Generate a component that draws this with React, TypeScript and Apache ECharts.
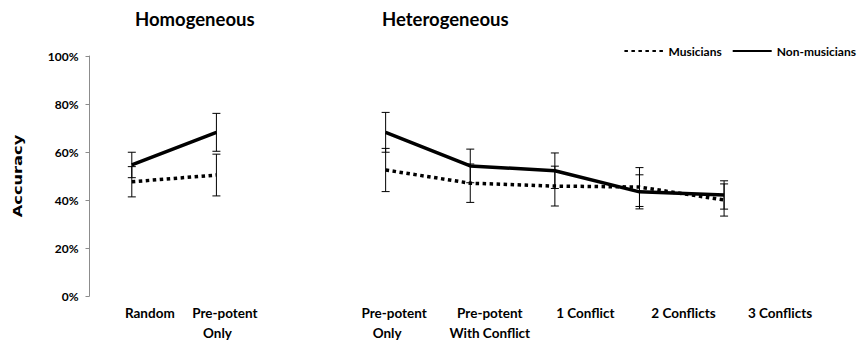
import React, { useEffect, useRef } from "react";
import * as echarts from "echarts";

// Task conditions along the x axis (one empty slot separates the two groups,
// one empty slot pads the right end).
const categories = [
  "Random",
  "Pre-potent\nOnly",
  "",
  "Pre-potent\nOnly",
  "Pre-potent\nWith Conflict",
  "1 Conflict",
  "2 Conflicts",
  "3 Conflicts",
  "",
];

// Mean accuracy (%) and error (±%) per condition.
const musicians = [47.6, 50.4, null, 52.5, 47.0, 45.8, 45.4, 40.0, null];
const musiciansErr = [6.3, 8.7, null, 9.0, 8.0, 8.3, 8.1, 6.7, null];
const nonMusicians = [54.6, 68.2, null, 68.2, 54.2, 52.2, 43.4, 42.1, null];
const nonMusiciansErr = [5.3, 7.9, null, 8.3, 7.0, 7.4, 7.1, 5.9, null];

const yTicks = [0, 20, 40, 60, 80, 100];
const groupTitles = ["Homogeneous", "Heterogeneous"];
const seriesNames = ["Musicians", "Non-musicians"];
const yAxisTitle = "Accuracy";

// Horizontal nudges (px) of each x label line relative to its slot centre.
const labelShift: number[][] = [
  [18, 0],
  [8.5, 1],
  [0, 0],
  [8.5, 1.5],
  [19.5, 19.5],
  [30.5, 0],
  [44, 0],
  [56, 0],
  [0, 0],
];

const FONT = 'Lato, "Open Sans", sans-serif';

function errorBars(values: (number | null)[], errs: (number | null)[]) {
  return values
    .map((v, i) => (v == null || errs[i] == null ? null : [i, v - (errs[i] as number), v + (errs[i] as number)]))
    .filter((d) => d !== null) as number[][];
}

function errorSeries(name: string, data: number[][]) {
  return {
    type: "custom",
    name: name + " error",
    data,
    z: 1,
    silent: true,
    renderItem: (_params: any, api: any) => {
      const x = api.value(0);
      const lo = api.coord([x, api.value(1)]);
      const hi = api.coord([x, api.value(2)]);
      const half = 4;
      const style = { stroke: "#000", lineWidth: 1 };
      return {
        type: "group",
        children: [
          { type: "line", shape: { x1: lo[0], y1: lo[1], x2: hi[0], y2: hi[1] }, style },
          { type: "line", shape: { x1: lo[0] - half, y1: lo[1], x2: lo[0] + half, y2: lo[1] }, style },
          { type: "line", shape: { x1: hi[0] - half, y1: hi[1], x2: hi[0] + half, y2: hi[1] }, style },
        ],
      };
    },
  };
}

export default function App() {
  const ref = useRef<HTMLDivElement>(null);

  useEffect(() => {
    if (!ref.current) return;
    const chart = echarts.init(ref.current, undefined, { renderer: "svg" });

    const rich: Record<string, any> = {};
    categories.forEach((c, i) => {
      c.split("\n").forEach((_line, j) => {
        const s = labelShift[i][j] || 0;
        rich[`s${i}_${j}`] = {
          fontFamily: FONT,
          fontSize: 13.5,
          fontWeight: "bold",
          color: "#000",
          lineHeight: 20,
          padding: [0, s < 0 ? -2 * s : 0, 0, s > 0 ? 2 * s : 0],
        };
      });
    });

    const titleStyle = { fontFamily: FONT, fontSize: 18.5, fontWeight: "bold", color: "#000" };

    chart.setOption({
      animation: false,
      title: [
        { text: groupTitles[0], left: 135, top: 9, padding: 0, textStyle: titleStyle },
        { text: groupTitles[1], left: 382, top: 9, padding: 0, textStyle: titleStyle },
      ],
      legend: {
        right: 3,
        top: 45,
        padding: 0,
        itemWidth: 39,
        itemHeight: 14,
        itemGap: 10,
        data: seriesNames,
        itemStyle: { opacity: 0 },
        textStyle: { fontFamily: FONT, fontSize: 12, fontWeight: "bold", color: "#000" },
      },
      graphic: [
        {
          type: "text",
          x: 18,
          y: 176,
          rotation: Math.PI / 2,
          scaleX: 1.3,
          style: {
            text: yAxisTitle,
            fontFamily: "DejaVu Sans",
            fontSize: 12.5,
            fontWeight: "bold",
            fill: "#000",
            align: "center",
            verticalAlign: "middle",
          },
        },
      ],
      grid: { left: 89.5, right: 8, top: 56, bottom: 51, containLabel: false },
      xAxis: {
        type: "category",
        data: categories,
        boundaryGap: true,
        axisLine: { show: false },
        axisTick: { show: false },
        axisLabel: {
          interval: 0,
          margin: 7,
          hideOverlap: false,
          formatter: (value: string, index: number) =>
            value
              .split("\n")
              .map((line, j) => `{s${index}_${j}|${line}}`)
              .join("\n"),
          rich,
        },
      },
      yAxis: {
        type: "value",
        min: yTicks[0],
        max: yTicks[yTicks.length - 1],
        interval: 20,
        axisLine: { show: true, lineStyle: { color: "#8c8c8c", width: 1 } },
        axisTick: { show: true, inside: false, length: 4, lineStyle: { color: "#8c8c8c" } },
        splitLine: { show: false },
        axisLabel: {
          margin: 11,
          formatter: "{value}%",
          fontFamily: FONT,
          fontSize: 12,
          fontWeight: "bold",
          color: "#000",
        },
      },
      series: [
        errorSeries(seriesNames[0], errorBars(musicians, musiciansErr)),
        errorSeries(seriesNames[1], errorBars(nonMusicians, nonMusiciansErr)),
        {
          type: "line",
          name: seriesNames[0],
          data: musicians,
          symbol: "none",
          connectNulls: false,
          z: 3,
          lineStyle: { color: "#000", width: 3.5, type: [3.5, 3.5], cap: "butt" },
          itemStyle: { color: "#000" },
        },
        {
          type: "line",
          name: seriesNames[1],
          data: nonMusicians,
          symbol: "none",
          connectNulls: false,
          z: 4,
          lineStyle: { color: "#000", width: 3.5, type: "solid" },
          itemStyle: { color: "#000" },
        },
      ],
    });

    return () => chart.dispose();
  }, []);

  return <div ref={ref} style={{ position: "absolute", left: 0, top: 0, width: 859, height: 347 }} />;
}
